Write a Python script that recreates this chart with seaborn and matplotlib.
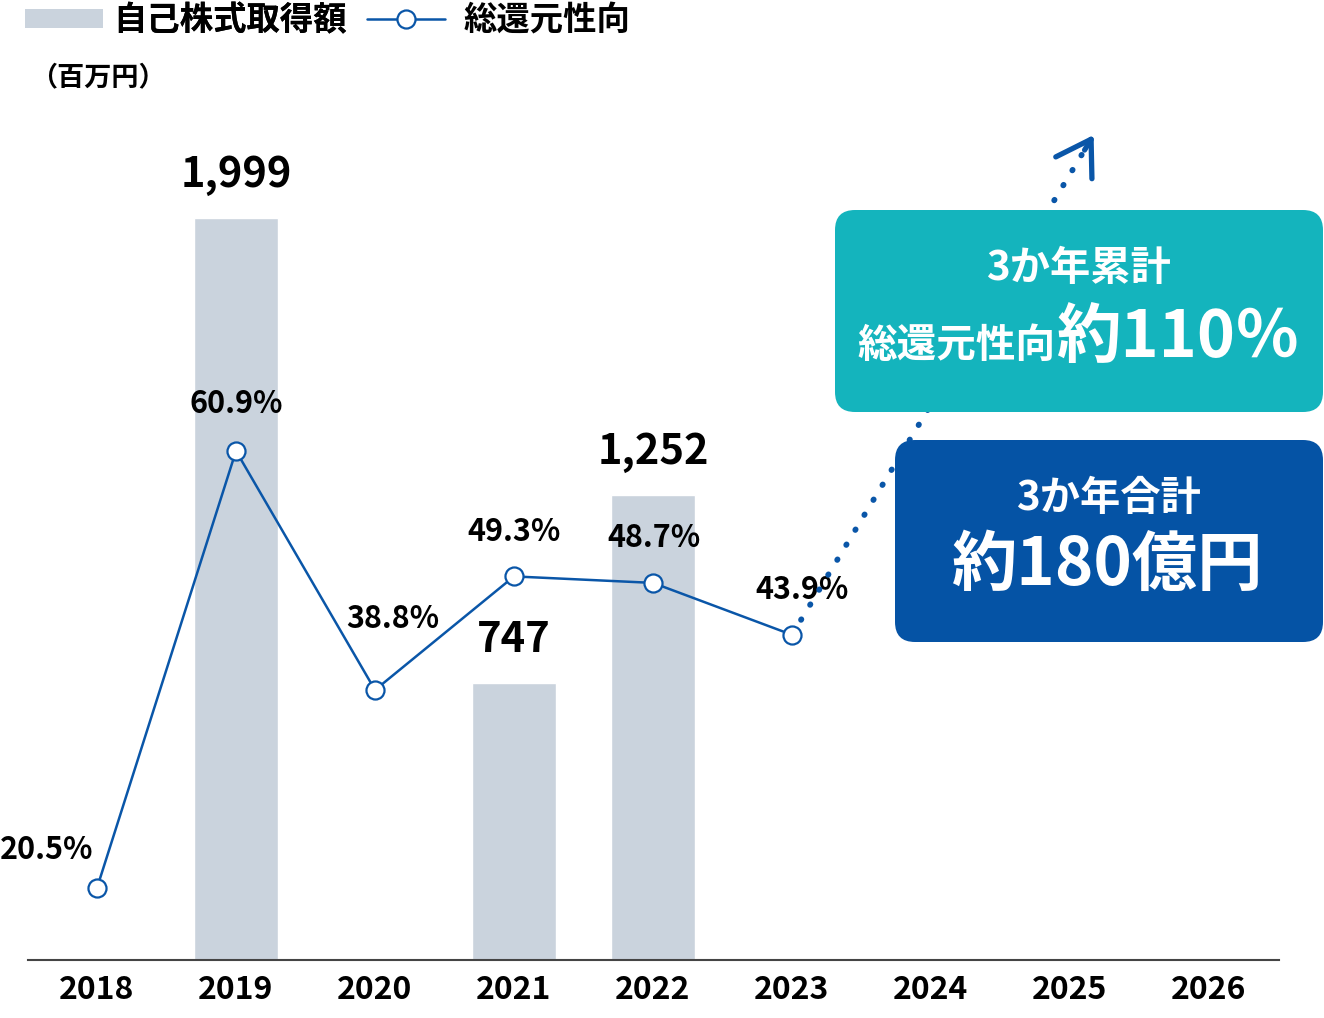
import numpy as np
import pandas as pd
import matplotlib
matplotlib.use("Agg")
import matplotlib.pyplot as plt
from matplotlib.patches import Patch, FancyBboxPatch
from matplotlib.lines import Line2D
import seaborn as sns

# values
years = ["2018", "2019", "2020", "2021", "2022", "2023", "2024", "2025", "2026"]
buyback_years = ["2019", "2021", "2022"]
buyback_values = [1999, 747, 1252]
buyback_labels = ["1,999", "747", "1,252"]
payout_years = ["2018", "2019", "2020", "2021", "2022", "2023"]
payout_values = [20.5, 60.9, 38.8, 49.3, 48.7, 43.9]
arrow_end = (7.17, 90.1)  # where the dotted projection points to

BAR_COLOR = "#cad3dd"
LINE_COLOR = "#0a56a8"
TEAL = "#14b4bd"
NAVY = "#0553a5"
INK = "#000000"

sns.set_theme(style="white")
plt.rcParams["font.family"] = ["Noto Sans CJK JP", "DejaVu Sans"]
plt.rcParams["text.color"] = INK

W, H = 1324, 1018
fig = plt.figure(figsize=(W / 100, H / 100), dpi=100)
ax = fig.add_axes([27.5 / W, (H - 960) / H, 1251 / W, 860 / H])

df_bar = pd.DataFrame({"year": buyback_years, "value": buyback_values})
sns.barplot(data=df_bar, x="year", y="value", order=years, width=0.6,
            color=BAR_COLOR, saturation=1, ax=ax)
ax.set_xlim(-0.5, 8.5)
ax.set_ylim(0, 2317)
ax.set_xlabel("")
ax.set_ylabel("")
ax.set_yticks([])
for s in ["top", "left", "right"]:
    ax.spines[s].set_visible(False)
ax.spines["bottom"].set_color("#444444")
ax.spines["bottom"].set_linewidth(1.5)
ax.tick_params(axis="x", length=0, pad=10, labelsize=23, labelcolor=INK)
for t in ax.get_xticklabels():
    t.set_fontweight("bold")

for yr, v, lab in zip(buyback_years, buyback_values, buyback_labels):
    ax.annotate(lab, (years.index(yr), v), xytext=(0, 31), textcoords="offset points",
                ha="center", va="center", fontsize=30, fontweight="bold", color=INK)

# payout ratio on a second axis
ax2 = ax.twinx()
df_line = pd.DataFrame({"x": [years.index(y) for y in payout_years], "ratio": payout_values})
sns.lineplot(data=df_line, x="x", y="ratio", color=LINE_COLOR, linewidth=1.8,
             marker="o", markersize=13, markerfacecolor="white",
             markeredgecolor=LINE_COLOR, markeredgewidth=1.6, ax=ax2, zorder=5)
ax2.set_ylim(13.84, 93.34)
ax2.set_xlim(-0.5, 8.5)
ax2.set_yticks([])
ax2.set_ylabel("")
ax2.set_xlabel("")
for s in ["top", "left", "right", "bottom"]:
    ax2.spines[s].set_visible(False)

offsets = [(-36, 27), (0, 34), (13, 51), (0, 32), (1, 32), (7, 32)]
for yr, v, off in zip(payout_years, payout_values, offsets):
    ax2.annotate(f"{v}%", (years.index(yr), v), xytext=off, textcoords="offset points",
                 ha="center", va="center", fontsize=22, fontweight="bold", color=INK)

# dotted projection + arrow head
x0, y0 = years.index(payout_years[-1]), payout_values[-1]
ax2.plot([x0, arrow_end[0]], [y0, arrow_end[1]], color=LINE_COLOR, linewidth=4.2,
         linestyle=(0, (0.1, 2.9)), dash_capstyle="round", zorder=4)
ax2.annotate("", xy=arrow_end,
             xytext=(arrow_end[0] - 0.03 * (arrow_end[0] - x0), arrow_end[1] - 0.03 * (arrow_end[1] - y0)),
             arrowprops=dict(arrowstyle="->,head_length=0.6,head_width=0.38", color=LINE_COLOR,
                             lw=3.8, mutation_scale=40, shrinkA=0, shrinkB=0,
                             capstyle="round", joinstyle="round"),
             zorder=4)

# callout boxes
def px_box(x0p, y0p, x1p, y1p, color):
    p = FancyBboxPatch((x0p / 100, (H - y1p) / 100), (x1p - x0p) / 100, (y1p - y0p) / 100,
                       boxstyle="round,pad=0,rounding_size=0.2", transform=fig.dpi_scale_trans,
                       facecolor=color, edgecolor="none", zorder=10)
    fig.add_artist(p)

px_box(835, 210, 1323, 412, TEAL)
px_box(895, 440, 1323, 642, NAVY)

fig.text(1078 / W, 1 - 268 / H, "3か年累計", ha="center", va="center",
         fontsize=29, fontweight="bold", color="white", zorder=11)
fig.text(1056 / W, 1 - 357 / H, "総還元性向", ha="right", va="baseline",
         fontsize=28.5, fontweight="bold", color="white", zorder=11)
fig.text(1056 / W, 1 - 357 / H, "約110％", ha="left", va="baseline",
         fontsize=46.5, fontweight="bold", color="white", zorder=11)
fig.text(1108 / W, 1 - 498 / H, "3か年合計", ha="center", va="center",
         fontsize=29, fontweight="bold", color="white", zorder=11)
fig.text(1108 / W, 1 - 565 / H, "約180億円", ha="center", va="center",
         fontsize=47, fontweight="bold", color="white", zorder=11)

# legend (two single-entry legends so the gaps can differ) and unit
leg_kw = dict(loc="upper left", frameon=False, borderpad=0, borderaxespad=0,
              handlelength=2.35, handleheight=0.5, prop={"size": 24, "weight": "bold"},
              labelcolor=INK)
bar_handle = Patch(facecolor=BAR_COLOR, edgecolor="none")
line_handle = Line2D([], [], color=LINE_COLOR, linewidth=1.8, marker="o", markersize=13,
                     markerfacecolor="white", markeredgecolor=LINE_COLOR, markeredgewidth=1.6)
leg1 = fig.legend([bar_handle], ["自己株式取得額"], bbox_to_anchor=(25 / W, 1 - 4 / H),
                  handletextpad=0.3, **leg_kw)
fig.add_artist(leg1)
fig.legend([line_handle], ["総還元性向"], bbox_to_anchor=(367 / W, 1 - 4 / H),
           handletextpad=0.55, **leg_kw)
fig.text(30 / W, 1 - 77 / H, "（百万円）", ha="left", va="center", fontsize=19.5,
         fontweight="bold", color=INK)

fig.savefig("out.png", dpi=100, facecolor="white")
